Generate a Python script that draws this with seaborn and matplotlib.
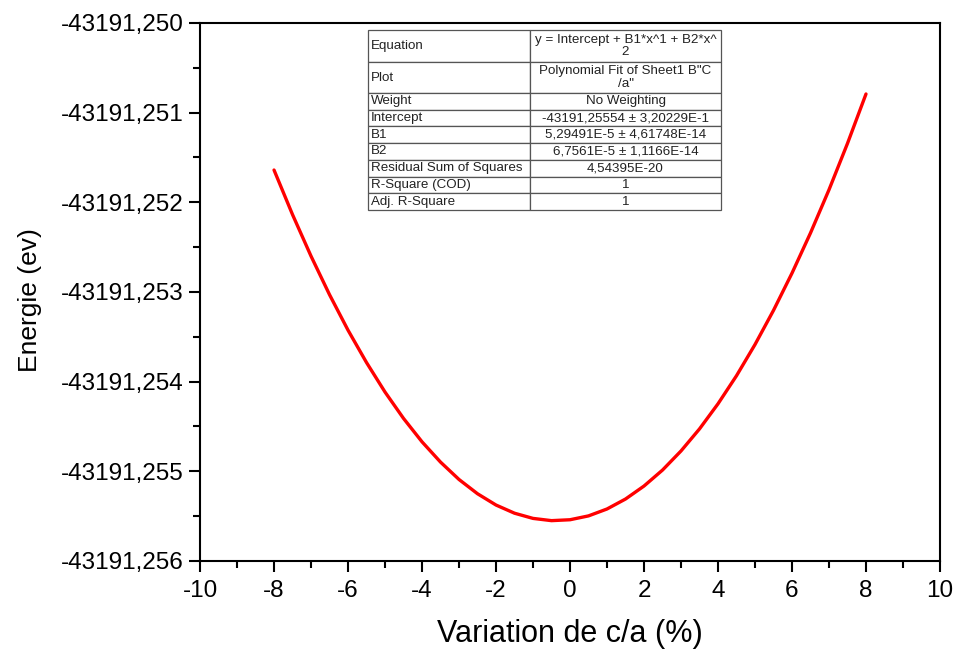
import matplotlib
matplotlib.use("Agg")
import matplotlib.pyplot as plt
from matplotlib.ticker import FuncFormatter, MultipleLocator
import seaborn as sns
import pandas as pd

# Data
variation = [-8.0, -7.5, -7.0, -6.5, -6.0, -5.5, -5.0, -4.5, -4.0, -3.5, -3.0, -2.5,
             -2.0, -1.5, -1.0, -0.5, 0.0, 0.5, 1.0, 1.5, 2.0, 2.5, 3.0, 3.5, 4.0,
             4.5, 5.0, 5.5, 6.0, 6.5, 7.0, 7.5, 8.0]
energie = [-43191.251640, -43191.252137, -43191.252600, -43191.253030, -43191.253426,
           -43191.253787, -43191.254116, -43191.254410, -43191.254671, -43191.254897,
           -43191.255091, -43191.255250, -43191.255376, -43191.255467, -43191.255525,
           -43191.255550, -43191.255540, -43191.255497, -43191.255420, -43191.255309,
           -43191.255164, -43191.254986, -43191.254773, -43191.254527, -43191.254247,
           -43191.253934, -43191.253586, -43191.253205, -43191.252790, -43191.252342,
           -43191.251860, -43191.251343, -43191.250792]

table_labels = ["Equation", "Plot", "Weight", "Intercept", "B1", "B2",
                "Residual Sum of Squares", "R-Square (COD)", "Adj. R-Square"]
table_values = ["y = Intercept + B1*x^1 + B2*x^\n2",
                "Polynomial Fit of Sheet1 B\"C\n/a\"",
                "No Weighting",
                "-43191,25554 \u00b1 3,20229E-1",
                "5,29491E-5 \u00b1 4,61748E-14",
                "6,7561E-5 \u00b1 1,1166E-14",
                "4,54395E-20", "1", "1"]

sns.set_theme(style="ticks")
plt.rcParams['font.family'] = ['Liberation Sans', 'DejaVu Sans']
plt.rcParams['axes.unicode_minus'] = False
plt.rcParams['text.color'] = 'black'
plt.rcParams['axes.labelcolor'] = 'black'

fig = plt.figure(figsize=(9.58, 6.49), dpi=100)
ax = fig.add_axes([0.2088, 0.1356, 0.9812 - 0.2088, 0.9646 - 0.1356])

df = pd.DataFrame({"x": variation, "y": energie})
sns.lineplot(data=df, x="x", y="y", ax=ax, color="#ff0000", linewidth=2.4,
             sort=False, estimator=None)

ax.set_xlim(-10, 10)
ax.set_ylim(-43191.256, -43191.250)
ax.xaxis.set_major_locator(MultipleLocator(2))
ax.xaxis.set_minor_locator(MultipleLocator(1))
ax.yaxis.set_major_locator(MultipleLocator(0.001))
ax.yaxis.set_minor_locator(MultipleLocator(0.0005))
ax.yaxis.set_major_formatter(FuncFormatter(lambda v, p: f"{v:.3f}".replace('.', ',')))
ax.xaxis.set_major_formatter(FuncFormatter(lambda v, p: f"{v:.0f}"))

for s in ax.spines.values():
    s.set_linewidth(1.5)
    s.set_color("black")
ax.tick_params(axis='both', which='major', direction='out', length=8, width=1.5,
               labelsize=17.5, colors='black', pad=4)
ax.tick_params(axis='x', which='major', pad=6)
ax.tick_params(axis='both', which='minor', direction='out', length=5, width=1.5,
               colors='black')

ax.set_xlabel("Variation de c/a (%)", fontsize=22, labelpad=12, color='black')
ax.set_ylabel("Energie (ev)", fontsize=19, color='black')
ax.yaxis.set_label_coords(-0.213, 0.485)

# Fit table
cell_text = [[l, v] for l, v in zip(table_labels, table_values)]
x0, x1 = 368, 721
y0, y1 = 30, 210
W, H = 958, 649
tb = fig.add_axes([x0 / W, 1 - y1 / H, (x1 - x0) / W, (y1 - y0) / H])
tb.axis('off')
table = tb.table(cellText=cell_text, colWidths=[162, 191], bbox=[0, 0, 1, 1])
table.auto_set_font_size(False)
row_h = [33, 31, 17, 17, 17, 17, 17, 17, 17]
for (r, c), cell in table.get_celld().items():
    cell.set_height(row_h[r])
    cell.set_edgecolor("#555555")
    cell.set_linewidth(0.9)
    cell.set_facecolor("white")
    txt = cell.get_text()
    txt.set_fontsize(9.6)
    txt.set_color('#222222')
    if c == 0:
        cell.set_text_props(ha='left')
        cell.PAD = 0.02
    else:
        cell.set_text_props(ha='center', multialignment='center')
        txt.set_linespacing(1.05)

fig.savefig("out.png", dpi=100)
